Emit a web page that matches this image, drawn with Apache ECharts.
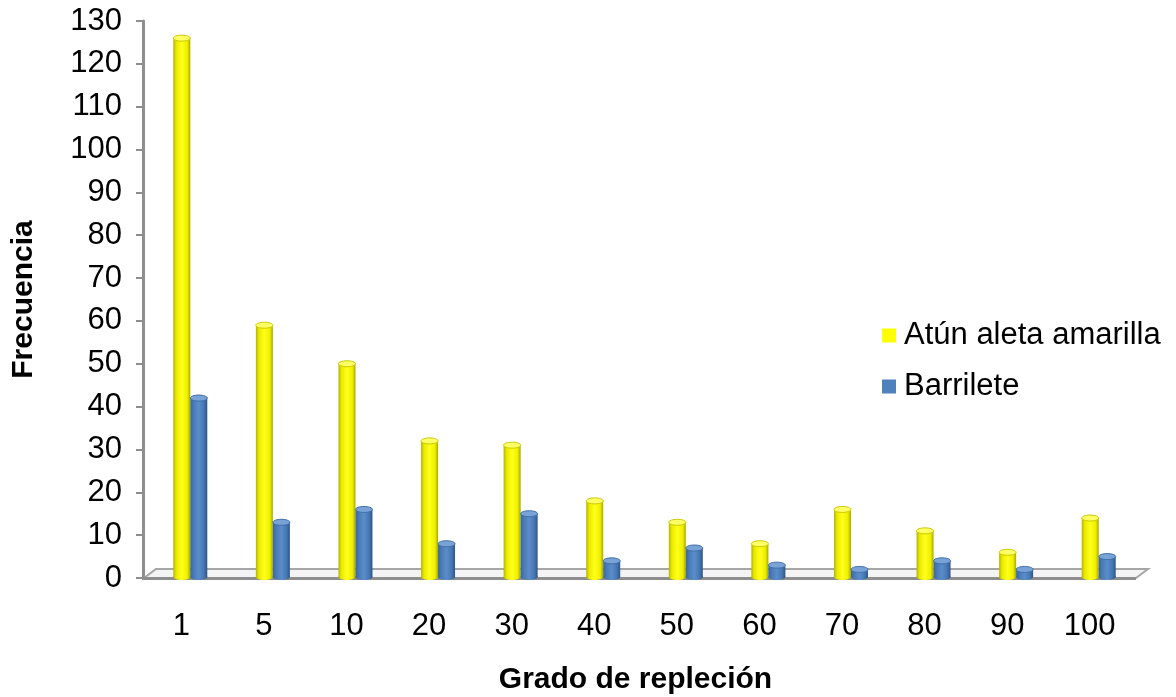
<!DOCTYPE html>
<html>
<head>
<meta charset="utf-8">
<script src="https://cdn.jsdelivr.net/npm/echarts@6/dist/echarts.min.js"></script>
<style>
  html, body { margin: 0; padding: 0; background: #ffffff; }
  #chart { width: 1176px; height: 697px; }
</style>
</head>
<body>
<div id="chart"></div>
<script>
// Grado de repleción (categorías del eje X)
const categories = ['1', '5', '10', '20', '30', '40', '50', '60', '70', '80', '90', '100'];
// Frecuencia por especie
const atunAletaAmarilla = [126, 59, 50, 32, 31, 18, 13, 8, 16, 11, 6, 14];
const barrilete = [42, 13, 16, 8, 15, 4, 7, 3, 2, 4, 2, 5];
// Marcas del eje Y
const yMin = 0, yMax = 130, yStep = 10;

const seriesNames = ['Atún aleta amarilla', 'Barrilete'];
const FONT = '"Liberation Sans", Arial, sans-serif';

const BAR_W = 17;   // ancho de cada cilindro
const DEPTH = 9;    // desplazamiento de profundidad (vista 3D)

const styles = [
  {
    body: [[0, '#B5B500'], [0.18, '#EAEA00'], [0.5, '#FFFF1A'], [0.82, '#EFEF00'], [1, '#A8A800']],
    cap: '#FFFF66', capStroke: '#C9C900', legend: '#FFFF00'
  },
  {
    body: [[0, '#3A679D'], [0.2, '#4A7BB6'], [0.5, '#5B8DCB'], [0.8, '#4677B2'], [1, '#2E5586']],
    cap: '#79A3D6', capStroke: '#3F6FA8', legend: '#4F81BD'
  }
];

function cylinderRenderer(sIdx) {
  return function (params, api) {
    const i = api.value(0);
    const v = api.value(1);
    const top = api.coord([i, v]);
    const base = api.coord([i, 0]);
    const cx = top[0] + DEPTH;
    const left = sIdx === 0 ? cx - BAR_W : cx;
    const rx = BAR_W / 2;
    const ry = 3;
    const st = styles[sIdx];
    const grad = new echarts.graphic.LinearGradient(0, 0, 1, 0,
      st.body.map(s => ({ offset: s[0], color: s[1] })));
    return {
      type: 'group',
      children: [
        { type: 'ellipse', shape: { cx: left + rx, cy: base[1] - 1, rx: rx, ry: ry }, style: { fill: grad } },
        { type: 'rect', shape: { x: left, y: top[1], width: BAR_W, height: Math.max(0, base[1] - 1 - top[1]) }, style: { fill: grad } },
        { type: 'ellipse', shape: { cx: left + rx, cy: top[1], rx: rx, ry: ry }, style: { fill: st.cap, stroke: st.capStroke, lineWidth: 1 } }
      ]
    };
  };
}

// Suelo del gráfico en perspectiva
function floorRenderer(params, api) {
  const cs = params.coordSys;
  const y0 = cs.y + cs.height;
  const xl = cs.x + 4, xr = cs.x + cs.width + 5;
  const dx = 12, dy = 9;
  return {
    type: 'group',
    children: [
      { type: 'polygon', shape: { points: [[xl, y0], [xr, y0], [xr + dx, y0 - dy], [xl + dx, y0 - dy]] },
        style: { fill: '#F4F4F4', stroke: '#A6A6A6', lineWidth: 2 } },
      { type: 'line', shape: { x1: cs.x + 2, y1: y0 + 0.5, x2: xr, y2: y0 + 0.5 },
        style: { stroke: '#8E8E8E', lineWidth: 3 } }
    ]
  };
}

const chart = echarts.init(document.getElementById('chart'), null, { renderer: 'canvas' });

chart.setOption({
  animation: false,
  backgroundColor: '#ffffff',
  textStyle: { fontFamily: FONT },
  grid: { left: 140, right: 45, top: 21, bottom: 119, containLabel: false, outerBoundsMode: 'none' },
  legend: {
    orient: 'vertical',
    left: 877,
    top: 315,
    itemWidth: 14,
    itemHeight: 14,
    itemGap: 20,
    icon: 'rect',
    selectedMode: false,
    data: [
      { name: seriesNames[0], itemStyle: { color: styles[0].legend } },
      { name: seriesNames[1], itemStyle: { color: styles[1].legend } }
    ],
    textStyle: { fontFamily: FONT, fontSize: 31, color: '#000000', padding: [0, 0, 0, 3] }
  },
  xAxis: {
    type: 'category',
    data: categories,
    name: 'Grado de repleción',
    nameLocation: 'middle',
    nameGap: 87,
    nameTextStyle: { fontFamily: FONT, fontSize: 30, fontWeight: 'bold', color: '#000000' },
    axisLine: { show: false },
    axisTick: { show: false },
    axisLabel: { interval: 0, margin: 33, fontFamily: FONT, fontSize: 31, color: '#000000' },
    splitLine: { show: false }
  },
  yAxis: {
    type: 'value',
    min: yMin,
    max: yMax,
    interval: yStep,
    offset: -3,
    name: 'Frecuencia',
    nameLocation: 'middle',
    nameGap: 104,
    nameTextStyle: { fontFamily: FONT, fontSize: 30, fontWeight: 'bold', color: '#000000' },
    axisLine: { show: true, lineStyle: { color: '#8E8E8E', width: 3 } },
    axisTick: { show: true, length: 7, lineStyle: { color: '#8E8E8E', width: 2 } },
    axisLabel: { margin: 21, fontFamily: FONT, fontSize: 31, color: '#000000' },
    splitLine: { show: false }
  },
  series: [
    {
      type: 'custom',
      name: 'suelo',
      silent: true,
      z: 1,
      renderItem: floorRenderer,
      data: [[0, 0]]
    },
    {
      type: 'custom',
      name: seriesNames[0],
      z: 3,
      itemStyle: { color: styles[0].legend },
      renderItem: cylinderRenderer(0),
      encode: { x: 0, y: 1 },
      data: atunAletaAmarilla.map((v, i) => [i, v])
    },
    {
      type: 'custom',
      name: seriesNames[1],
      z: 3,
      itemStyle: { color: styles[1].legend },
      renderItem: cylinderRenderer(1),
      encode: { x: 0, y: 1 },
      data: barrilete.map((v, i) => [i, v])
    }
  ]
});
</script>
</body>
</html>
